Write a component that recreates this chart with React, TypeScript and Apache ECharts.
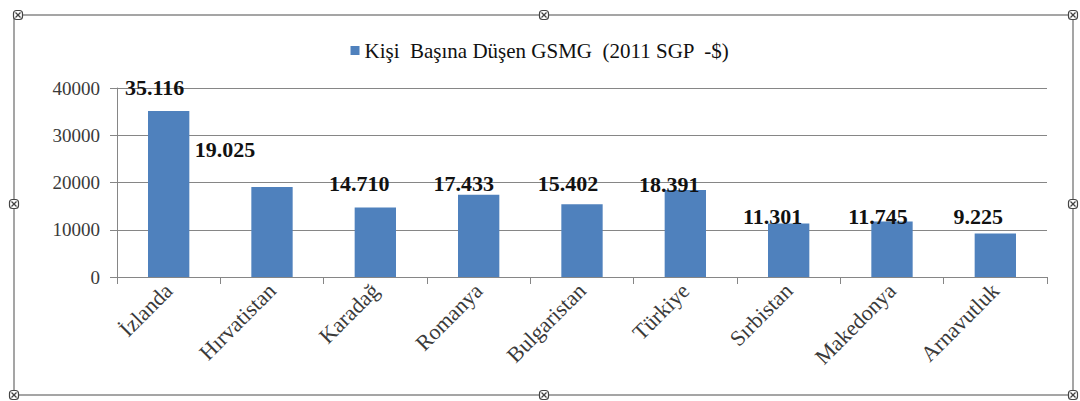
import React, { useEffect, useRef } from "react";
import * as echarts from "echarts";

const categories = ["İzlanda", "Hırvatistan", "Karadağ", "Romanya", "Bulgaristan", "Türkiye", "Sırbistan", "Makedonya", "Arnavutluk"];
const values = [35116, 19025, 14710, 17433, 15402, 18391, 11301, 11745, 9225];
const seriesName = "Kişi  Başına Düşen GSMG  (2011 SGP  -$)";
const yTicks = { min: 0, max: 40000, interval: 10000 };

// label placement tweaks (style only)
const labelShift = [
  [-14, -8], [-47, -22], [-16, -8], [-15, 5], [-14, -5], [-16, 10], [-16, 9], [-14, 11], [-17, -1],
];

const fmt = (v: number) => String(v).replace(/\B(?=(\d{3})+(?!\d))/g, ".");

const FONT = "Liberation Serif";

function handle(cx: number, cy: number) {
  return {
    type: "group",
    silent: true,
    children: [
      { type: "rect", shape: { x: cx - 4.5, y: cy - 4.5, width: 9, height: 9, r: 3 }, style: { fill: "#fff", stroke: "#444", lineWidth: 1.2 } },
      { type: "line", shape: { x1: cx - 2.5, y1: cy - 2.5, x2: cx + 2.5, y2: cy + 2.5 }, style: { stroke: "#444", lineWidth: 1.2 } },
      { type: "line", shape: { x1: cx + 2.5, y1: cy - 2.5, x2: cx - 2.5, y2: cy + 2.5 }, style: { stroke: "#444", lineWidth: 1.2 } },
    ],
  };
}

export default function App() {
  const ref = useRef<HTMLDivElement>(null);
  useEffect(() => {
    if (!ref.current) return;
    const chart = echarts.init(ref.current, null, { renderer: "svg" });
    const L = 14, T = 15, R = 1073, B = 395, MX = 544, MY = 204;
    chart.setOption({
      animation: false,
      backgroundColor: "#ffffff",
      textStyle: { fontFamily: FONT },
      legend: {
        data: [seriesName],
        top: 35,
        left: "center",
        itemWidth: 9,
        itemHeight: 9,
        itemGap: 4,
        icon: "rect",
        textStyle: { fontFamily: FONT, fontSize: 21, color: "#111" },
      },
      grid: { left: 117, right: 33, top: 88, bottom: 124, containLabel: false },
      xAxis: {
        type: "category",
        data: categories,
        axisLine: { lineStyle: { color: "#868686", width: 1 } },
        axisTick: { show: true, length: 7, alignWithLabel: false, lineStyle: { color: "#868686" } },
        axisLabel: { rotate: 45, fontFamily: FONT, fontSize: 22, color: "#3a3a3a", margin: 10, interval: 0 },
      },
      yAxis: {
        type: "value",
        min: yTicks.min,
        max: yTicks.max,
        interval: yTicks.interval,
        axisLine: { show: true, lineStyle: { color: "#868686" } },
        axisTick: { show: true, length: 7, lineStyle: { color: "#868686" } },
        axisLabel: { fontFamily: FONT, fontSize: 19, color: "#3a3a3a", margin: 17, formatter: (v: number) => String(v) },
        splitLine: { show: true, lineStyle: { color: "#868686", width: 1 } },
      },
      series: [
        {
          name: seriesName,
          type: "bar",
          barWidth: "40%",
          itemStyle: { color: "#4F81BD" },
          data: values.map((v, i) => ({
            value: v,
            label: { offset: labelShift[i] },
          })),
          label: {
            show: true,
            position: "top",
            distance: 5,
            fontFamily: FONT,
            fontSize: 22,
            fontWeight: "bold",
            color: "#111",
            formatter: (p: any) => fmt(p.value),
          },
        },
      ],
      graphic: [
        {
          type: "rect",
          silent: true,
          z: -1,
          shape: { x: L, y: T, width: R - L, height: B - T },
          style: { fill: "none", stroke: "#888", lineWidth: 1.5 },
        },
        handle(L + 4, T),
        handle(MX, T),
        handle(R, T),
        handle(L, MY),
        handle(R, MY),
        handle(L, B),
        handle(MX, B),
        handle(R, B),
      ],
    });
    return () => chart.dispose();
  }, []);
  return <div ref={ref} style={{ position: "fixed", left: 0, top: 0, width: 1080, height: 401 }} />;
}
